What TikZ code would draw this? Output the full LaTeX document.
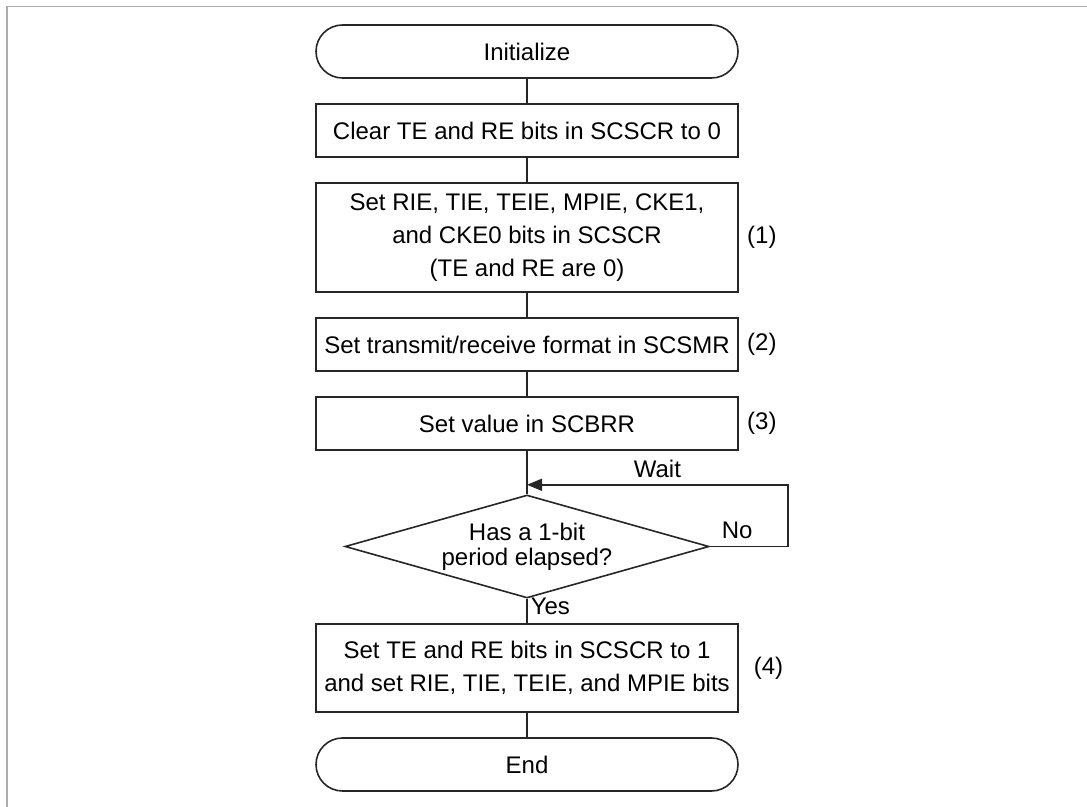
\documentclass[tikz,border=0pt]{standalone}
\usepackage{fontspec}
\setmainfont{Liberation Sans}
\usepackage{tikz}
\usetikzlibrary{arrows.meta, positioning, shapes.geometric}

\begin{document}
\begin{tikzpicture}[
    font=\fontsize{12}{16.5}\selectfont,
    node distance=12.2pt,
    box/.style={draw=black!85, line width=0.8pt, rectangle, align=center, minimum height=26.5pt, minimum width=211pt, inner xsep=2pt},
    term/.style={box, rounded corners=13.25pt},
    decision/.style={draw=black!85, line width=0.8pt, diamond, aspect=3.53, align=center, inner sep=0pt, minimum width=182pt, minimum height=51.5pt, font=\fontsize{12}{12.5}\selectfont},
    line/.style={draw=black!85, line width=0.8pt},
    arrow/.style={line, -{Triangle[length=7.5pt, width=6pt]}},
    steplabel/.style={inner sep=3.3pt}
]
\useasboundingbox (0,0) rectangle (543.5pt,-403.5pt);
% frame
\draw[gray!65, line width=0.9pt] (3.5pt,-403.5pt) |- (543.5pt,-3.3pt);

% flow
\node[term] (init) at (263.5pt,-25.75pt) {Initialize};
\node[box, below=of init] (clear) {Clear TE and RE bits in SCSCR to 0};
\node[box, below=of clear, minimum height=54.5pt] (setbits) {Set RIE, TIE, TEIE, MPIE, CKE1,\\and CKE0 bits in SCSCR\\(TE and RE are 0)};
\node[box, below=of setbits] (format) {Set transmit/receive format in SCSMR};
\node[box, below=of format] (brr) {Set value in SCBRR};
\node[decision, below=21.7pt of brr] (elapsed) {Has a 1-bit\\period elapsed?};
\node[box, below=of elapsed, minimum height=44pt] (enable) {Set TE and RE bits in SCSCR to 1\\and set RIE, TIE, TEIE, and MPIE bits};
\node[term, below=of enable] (finish) {End};
\coordinate (waitjoin) at ([yshift=-17pt]brr.south);

% step numbers
\node[steplabel, right=0.7pt of setbits] (n1) {(1)};
\node[steplabel, right=0.7pt of format] (n2) {(2)};
\node[steplabel, right=0.7pt of brr] (n3) {(3)};
\node[steplabel, right=4pt of enable] (n4) {(4)};

\draw[line] (init) -- (clear);
\draw[line] (clear) -- (setbits);
\draw[line] (setbits) -- (format);
\draw[line] (format) -- (brr);
\draw[line] (brr) -- (elapsed);
\draw[line] (elapsed) -- node[pos=0.3, right, inner sep=1.5pt] {Yes} (enable);
\draw[line] (enable) -- (finish);
\draw[arrow] (elapsed.east) -- node[pos=0.35, above] {No} ++(39pt,0) |- node[pos=0.75, above] {Wait} (waitjoin);
\end{tikzpicture}
\end{document}
